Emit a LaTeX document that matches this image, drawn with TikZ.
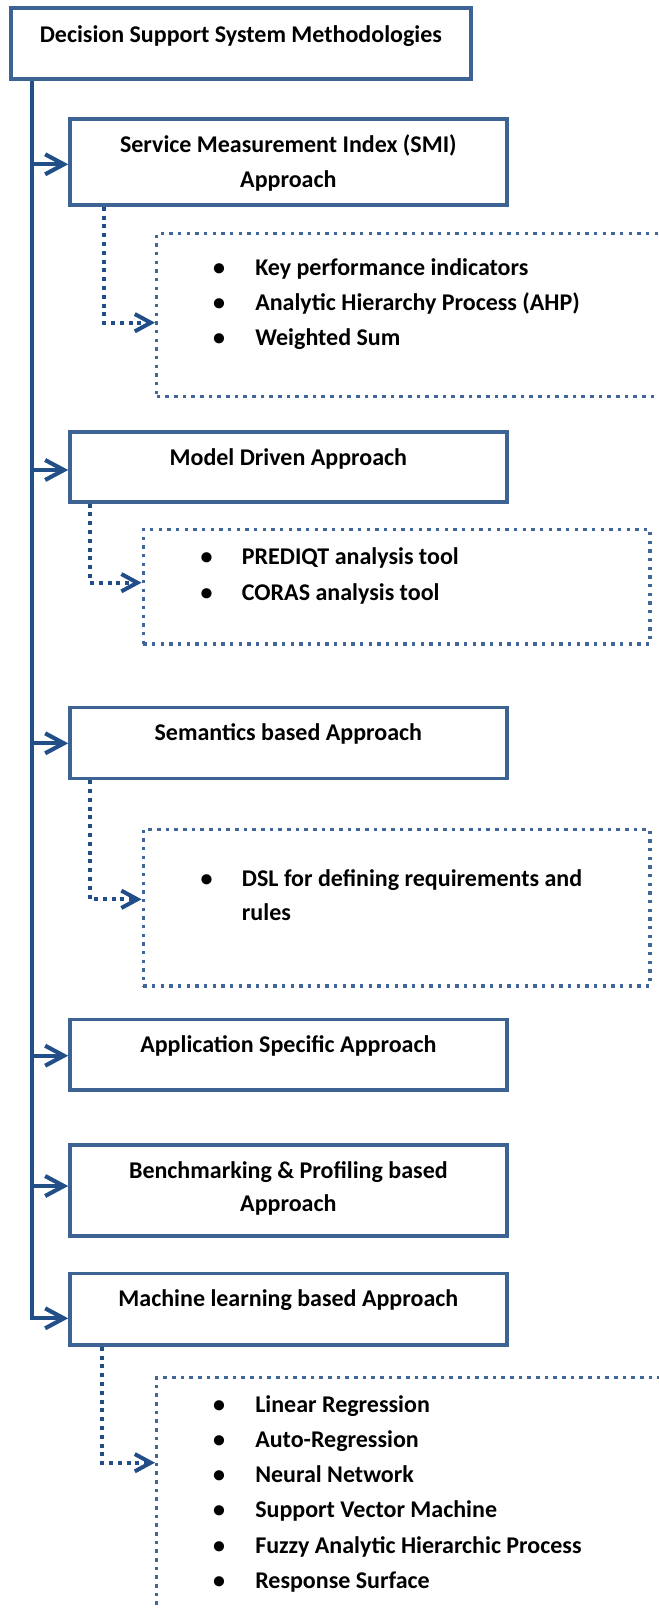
\documentclass[tikz,border=0pt]{standalone}
\usepackage{fontspec}
\setmainfont{Carlito}
\usetikzlibrary{arrows.meta,fit}
\definecolor{boxblue}{HTML}{3D6395}
\definecolor{linkblue}{HTML}{234F89}
\definecolor{dotbox}{HTML}{41679A}
\definecolor{dotlink}{HTML}{214E88}
\begin{document}
\begin{tikzpicture}[x=0.75pt,y=-0.75pt,
  mainbox/.style={draw=boxblue, line width=2.7pt, inner sep=0pt},
  listbox/.style={draw=dotbox, line width=2.6pt, dash pattern=on 2.6pt off 3.9pt, inner sep=0pt},
  branch/.style={draw=linkblue, line width=3.1pt, -{Straight Barb[length=14pt,width=15pt,line width=0pt 1]}},
  sublink/.style={draw=dotlink, line width=3pt, dash pattern=on 3pt off 3.6pt, -{Straight Barb[length=12pt,width=13pt,line width=0pt 1]}},
  title/.style={font=\fontsize{18}{22}\selectfont\bfseries, inner sep=0pt, anchor=base},
  item/.style={font=\fontsize{18}{22}\selectfont\bfseries, inner sep=0pt, anchor=base west},
  bulletmark/.style={font=\fontsize{18}{22}\selectfont\bfseries, inner sep=0pt, anchor=base}]
\useasboundingbox (0,0) rectangle (659,1609);
\clip (0,0) rectangle (659,1609);

% main boxes
\node[mainbox, fit={(11,8.3) (470.7,79.3)}] (root) {};
\node[mainbox, fit={(70,119.3) (506.7,205)}] (smi) {};
\node[mainbox, fit={(70,431.7) (506.7,501.7)}] (mda) {};
\node[mainbox, fit={(70,707.5) (506.7,778.3)}] (sem) {};
\node[mainbox, fit={(70,1019.3) (506.7,1090)}] (app) {};
\node[mainbox, fit={(70,1145) (506.7,1236)}] (bench) {};
\node[mainbox, fit={(70,1273.3) (506.7,1345)}] (ml) {};

% dotted list boxes
\node[listbox, fit={(156.7,233.3) (720,396.7)}] (l1) {};
\node[listbox, fit={(143.3,529.3) (650,644)}] (l2) {};
\node[listbox, fit={(143.3,829.5) (650,986)}] (l3) {};
\node[listbox, fit={(156.7,1377.7) (720,1700)}] (l4) {};

% box titles
\node[title] (troot) at (240.85,42.3) {Decision Support System Methodologies};
\node[title] (tsmia) at (288.35,152.7) {Service Measurement Index (SMI)};
\node[title] (tsmib) at (288.35,187.3) {Approach};
\node[title] (tmda) at (288.35,465) {Model Driven Approach};
\node[title] (tsem) at (288.35,740.7) {Semantics based Approach};
\node[title] (tapp) at (288.35,1052.7) {Application Specific Approach};
\node[title] (tbencha) at (288.35,1178.3) {Benchmarking \& Profiling based};
\node[title] (tbenchb) at (288.35,1211.7) {Approach};
\node[title] (tml) at (288.35,1306.7) {Machine learning based Approach};

% list contents
\foreach \y/\t [count=\i] in {275.2/Key performance indicators,
    310.8/Analytic Hierarchy Process (AHP),
    345.8/Weighted Sum}{
  \node[bulletmark] (ba\i) at (219,\y) {•};
  \node[item] (ia\i) at (255,\y) {\t};
}
\foreach \y/\t [count=\i] in {564.8/PREDIQT analysis tool,
    600.2/CORAS analysis tool}{
  \node[bulletmark] (bb\i) at (206.7,\y) {•};
  \node[item] (ib\i) at (241.7,\y) {\t};
}
\node[bulletmark] (bc1) at (206.7,886) {•};
\node[item] (ic1) at (241.7,886) {DSL for defining requirements and};
\node[item] (ic2) at (241.7,920.7) {rules};
\foreach \y/\t [count=\i] in {1412.5/Linear Regression,
    1447.5/Auto-Regression,
    1482.5/Neural Network,
    1517.5/Support Vector Machine,
    1553/Fuzzy Analytic Hierarchic Process,
    1588.5/Response Surface}{
  \node[bulletmark] (bd\i) at (219,\y) {•};
  \node[item] (id\i) at (255,\y) {\t};
}

% branch points on the trunk
\coordinate (b1) at (32.3,164.3);
\coordinate (b2) at (32.3,470);
\coordinate (b3) at (32.3,743.3);
\coordinate (b4) at (32.3,1055.7);
\coordinate (b5) at (32.3,1186);
\coordinate (b6) at (32.3,1318.3);

% trunk ending in the last branch
\draw[branch] (root.south -| b1) -- (b6) -- (b6 -| ml.west);
\draw[branch] (b1) -- (b1 -| smi.west);
\draw[branch] (b2) -- (b2 -| mda.west);
\draw[branch] (b3) -- (b3 -| sem.west);
\draw[branch] (b4) -- (b4 -| app.west);
\draw[branch] (b5) -- (b5 -| bench.west);

% corners of the dotted links
\coordinate (k1) at (103.7,322.7);
\coordinate (k2) at (90,582.7);
\coordinate (k3) at (90,899.3);
\coordinate (k4) at (101.7,1462.7);

\draw[sublink] (smi.south -| k1) -- (k1) -- (k1 -| l1.west);
\draw[sublink] (mda.south -| k2) -- (k2) -- (k2 -| l2.west);
\draw[sublink] (sem.south -| k3) -- (k3) -- (k3 -| l3.west);
\draw[sublink] (ml.south -| k4) -- (k4) -- (k4 -| l4.west);
\end{tikzpicture}
\end{document}
